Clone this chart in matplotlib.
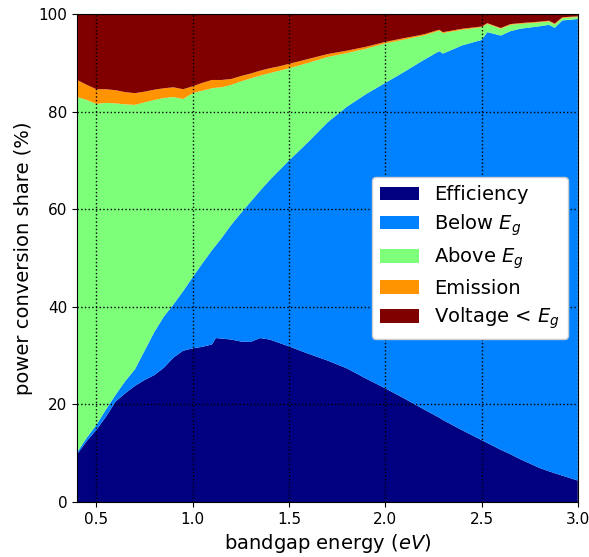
import numpy as np
import matplotlib.pyplot as plt

# bandgap energies (eV) and share of incoming power (%) for each loss channel
energy = [0.40, 0.45, 0.50, 0.55, 0.60, 0.65, 0.70, 0.75, 0.80, 0.85, 0.90, 0.95,
          1.00, 1.05, 1.10, 1.12, 1.15, 1.20, 1.25, 1.30, 1.35, 1.40, 1.45, 1.50,
          1.60, 1.70, 1.80, 1.90, 2.00, 2.10, 2.20, 2.28, 2.30, 2.40, 2.50, 2.53,
          2.60, 2.65, 2.70, 2.80, 2.85, 2.88, 2.92, 3.00]

efficiency = [9.8, 12.5, 14.8, 17.5, 20.6, 22.3, 23.8, 25.0, 26.0, 27.5, 29.6, 31.0,
              31.5, 31.8, 32.3, 33.6, 33.5, 33.3, 32.9, 32.8, 33.6, 33.3, 32.6, 31.9,
              30.4, 29.0, 27.4, 25.3, 23.3, 21.2, 19.0, 17.3, 16.8, 14.7, 12.7, 12.1,
              10.7, 9.8, 8.8, 7.0, 6.3, 5.9, 5.4, 4.4]

below_gap = [0.4, 0.7, 1.0, 1.5, 1.4, 2.5, 3.4, 6.0, 8.8, 10.5, 10.9, 12.2,
             14.6, 17.1, 19.3, 19.0, 20.6, 23.5, 26.3, 28.7, 30.2, 32.7, 35.4, 38.1,
             43.4, 48.8, 53.6, 58.3, 62.6, 67.0, 71.6, 75.1, 75.1, 78.9, 82.0, 84.2,
             84.9, 86.7, 88.2, 90.5, 91.5, 91.3, 93.3, 94.6]

above_gap = [72.8, 69.2, 65.8, 62.8, 59.7, 56.7, 54.2, 50.9, 47.6, 44.8, 42.5, 39.4,
             37.7, 35.4, 33.2, 32.3, 30.9, 28.7, 27.0, 25.3, 23.6, 21.9, 20.4, 18.9,
             16.2, 13.4, 11.0, 9.3, 8.1, 6.6, 5.0, 4.2, 4.2, 3.2, 2.6, 1.7,
             1.4, 1.3, 1.0, 0.8, 0.7, 0.7, 0.5, 0.4]

emission = [3.5, 3.1, 3.0, 2.8, 2.7, 2.5, 2.4, 2.2, 2.1, 2.0, 2.0, 2.0,
            1.4, 1.6, 1.7, 1.6, 1.5, 1.2, 1.1, 1.0, 1.0, 1.0, 0.9, 0.9,
            0.8, 0.6, 0.5, 0.4, 0.3, 0.3, 0.25, 0.2, 0.2, 0.2, 0.15, 0.15,
            0.15, 0.15, 0.15, 0.15, 0.15, 0.15, 0.15, 0.15]

voltage = [13.5, 14.5, 15.4, 15.4, 15.6, 16.0, 16.2, 15.9, 15.5, 15.2, 15.0, 15.4,
           14.8, 14.1, 13.5, 13.5, 13.5, 13.3, 12.7, 12.2, 11.6, 11.1, 10.7, 10.2,
           9.2, 8.2, 7.5, 6.7, 5.7, 4.9, 4.15, 3.2, 3.7, 3.0, 2.55, 1.85,
           2.85, 2.05, 1.85, 1.55, 1.35, 1.95, 0.65, 0.45]

labels = ['Efficiency', 'Below $E_g$', 'Above $E_g$', 'Emission', 'Voltage < $E_g$']
colors = plt.cm.jet(np.linspace(0, 1, 5))

fig = plt.figure(figsize=(5.89, 5.57), dpi=100)
ax = fig.add_axes([0.131, 0.0987, 0.850, 0.876])
ax.stackplot(energy, efficiency, below_gap, above_gap, emission, voltage,
             colors=colors, labels=labels)
ax.set_xlim(0.4, 3.0)
ax.set_ylim(0, 100)
ax.set_axisbelow(False)
ax.grid(True, color='black', linestyle=':', linewidth=1)
ax.tick_params(labelsize=11)
ax.set_xlabel('bandgap energy ($eV$)', fontsize=14)
ax.set_ylabel('power conversion share (%)', fontsize=14)
ax.legend(loc='center right', bbox_to_anchor=(1.0, 0.5), fontsize=14,
          labelspacing=0.4, framealpha=1)
fig.savefig('out.png', dpi=100)
